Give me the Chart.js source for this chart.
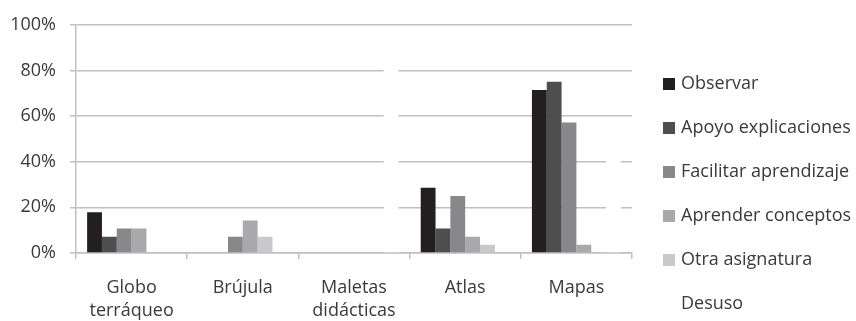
<!DOCTYPE html>
<html>
<head>
<meta charset="utf-8">
<script src="https://cdn.jsdelivr.net/npm/chart.js@4"></script>
<style>
  html, body { margin: 0; padding: 0; background: #ffffff; }
  #wrap { width: 856px; height: 321px; }
</style>
</head>
<body>
<div id="wrap"><canvas id="c" width="856" height="321"></canvas></div>
<script>
// Uso de recursos didácticos por finalidad (% de respuestas)
const categories = [['Globo', 'terráqueo'], 'Brújula', ['Maletas', 'didácticas'], 'Atlas', 'Mapas'];
const seriesNames = ['Observar', 'Apoyo explicaciones', 'Facilitar aprendizaje', 'Aprender conceptos', 'Otra asignatura', 'Desuso'];
const seriesColors = ['#231f20', '#4e4e50', '#88888b', '#a9a9ab', '#c9c9cb', '#ffffff'];

const observar    = [17.86, 0,     0,     28.57, 71.43];
const apoyo       = [7.14,  0,     0,     10.71, 75.00];
const facilitar   = [10.71, 7.14,  0,     25.00, 57.14];
const aprender    = [10.71, 14.29, 0,     7.14,  3.57];
const otra        = [0,     7.14,  0,     3.57,  0];
const desuso      = [0,     0,     89.29, 0,     50.00];

const yTicks = [0, 20, 40, 60, 80, 100];

const seriesValues = [observar, apoyo, facilitar, aprender, otra, desuso];

const FONT = '"Open Sans", "DejaVu Sans", sans-serif';
const TEXT = '#3a3a3a';
const GRID = '#c0c0c0';

// Legend drawn at the right of the plot, one row per series
const sideLegend = {
  id: 'sideLegend',
  afterDraw(chart) {
    const ctx = chart.ctx;
    const area = chart.chartArea;
    const x0 = area.right + 31;
    ctx.save();
    ctx.font = '18px ' + FONT;
    ctx.textBaseline = 'middle';
    ctx.textAlign = 'left';
    chart.data.datasets.forEach((ds, i) => {
      const y = 84 + i * 44;
      ctx.fillStyle = ds.backgroundColor;
      ctx.fillRect(x0, y - 6, 12, 12);
      ctx.fillStyle = TEXT;
      ctx.fillText(ds.label, x0 + 18, y);
    });
    ctx.restore();
  }
};

new Chart(document.getElementById('c'), {
  type: 'bar',
  data: {
    labels: categories,
    datasets: seriesNames.map((name, i) => ({
      label: name,
      data: seriesValues[i],
      backgroundColor: seriesColors[i],
      borderWidth: 0,
      categoryPercentage: 0.8,
      barPercentage: 1.0
    }))
  },
  options: {
    responsive: false,
    animation: false,
    events: [],
    layout: { padding: { top: 16, right: 224, left: 0, bottom: 0 } },
    plugins: {
      legend: { display: false },
      tooltip: { enabled: false }
    },
    scales: {
      x: {
        afterFit(scale) { scale.height = 68; },
        grid: {
          offset: true,
          drawOnChartArea: false,
          drawTicks: true,
          tickLength: 6,
          color: GRID,
          lineWidth: 1.5
        },
        border: { display: true, color: GRID, width: 1.5 },
        ticks: {
          padding: 18,
          color: TEXT,
          font: { family: FONT, size: 18, lineHeight: 1.25 },
          maxRotation: 0,
          autoSkip: false
        }
      },
      y: {
        min: 0,
        max: 100,
        afterFit(scale) { scale.width = 76; },
        afterBuildTicks(scale) { scale.ticks = yTicks.map(v => ({ value: v })); },
        grid: {
          color: GRID,
          lineWidth: 1.5,
          drawTicks: true,
          tickLength: 6
        },
        border: { display: true, color: GRID, width: 1.5 },
        ticks: {
          padding: 14,
          color: TEXT,
          font: { family: FONT, size: 18 },
          callback: v => v + '%'
        }
      }
    }
  },
  plugins: [sideLegend]
});
</script>
</body>
</html>
